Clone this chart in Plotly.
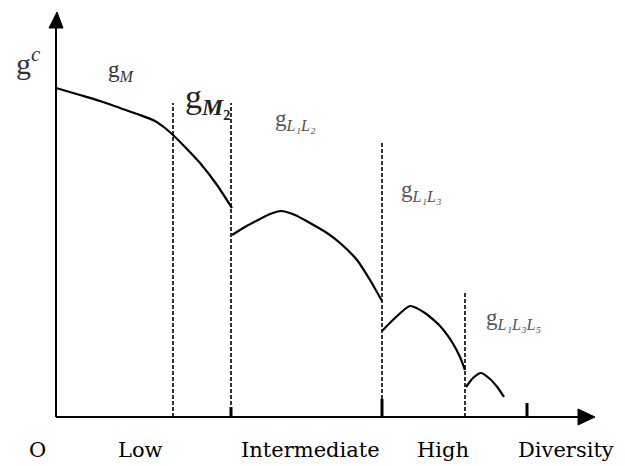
import plotly.graph_objects as go

# Growth-rate curve g^c against diversity, one piece per regime
seg_m_x = [0, 24, 44, 64, 84, 99, 109, 117, 129, 144, 161, 176]
seg_m_y = [329, 322, 316, 309, 302, 296, 289, 282, 270, 254, 232, 209]

seg_l12_x = [176, 189, 204, 214, 225, 239, 254, 271, 284, 301, 314, 326]
seg_l12_y = [182, 190, 198, 203, 206, 202, 194, 184, 174, 157, 137, 116]

seg_l13_x = [326, 339, 354, 369, 384, 396, 404, 409]
seg_l13_y = [86, 99, 111, 104, 91, 75, 60, 47]

seg_l135_x = [410, 417, 425, 434, 442, 448]
seg_l135_y = [30, 39, 44, 38, 29, 20]

# Regime boundaries (dashed) and their heights
boundary_x = [117, 175, 326, 409]
boundary_top = [314, 314, 275, 124]

# Thick tick marks on the diversity axis
tick_x = [175, 326, 471]
tick_h = [10, 18, 14]

# Category labels under the axis
cat_labels = ["O", "Low", "Intermediate", "High", "Diversity"]
cat_x = [-19, 84, 254, 387, 510]

# Curve labels
curve_labels = [
    "g<sub><i>M</i></sub>",
    "g<sub><b><i>M</i>₂</b></sub>",
    "g<sub><i>L₁L₂</i></sub>",
    "g<sub><i>L₁L₃</i></sub>",
    "g<sub><i>L₁L₃L₅</i></sub>",
]
curve_label_x = [65, 151, 239, 365, 457]
curve_label_y = [346, 318, 297, 226, 98]
curve_label_size = [23, 34, 23, 23, 23]
curve_label_color = ["#333", "#222", "#555", "#555", "#555"]

X_MIN, X_MAX = -56, 569
Y_MIN, Y_MAX = -49, 417

fig = go.Figure()

for sx, sy in [(seg_m_x, seg_m_y), (seg_l12_x, seg_l12_y),
               (seg_l13_x, seg_l13_y), (seg_l135_x, seg_l135_y)]:
    fig.add_trace(go.Scatter(
        x=sx, y=sy, mode="lines",
        line=dict(color="black", width=2.2, shape="spline", smoothing=0.6),
        hoverinfo="skip", showlegend=False,
    ))

shapes = []
# axes
shapes.append(dict(type="line", xref="x", yref="y", x0=0, y0=0, x1=0, y1=390,
                   line=dict(color="black", width=2)))
shapes.append(dict(type="line", xref="x", yref="y", x0=0, y0=0, x1=524, y1=0,
                   line=dict(color="black", width=2)))
# arrowheads
shapes.append(dict(type="path", xref="x", yref="y",
                   path="M -7,389 L 7,389 L 1,405 Z",
                   fillcolor="black", line=dict(color="black", width=1)))
shapes.append(dict(type="path", xref="x", yref="y",
                   path="M 522,-8 L 522,8 L 539,0 Z",
                   fillcolor="black", line=dict(color="black", width=1)))
# dashed regime boundaries
for bx, bt in zip(boundary_x, boundary_top):
    shapes.append(dict(type="line", xref="x", yref="y", x0=bx, y0=0, x1=bx, y1=bt,
                       line=dict(color="black", width=1.6, dash="4px,2px")))
# ticks
for tx, th in zip(tick_x, tick_h):
    shapes.append(dict(type="line", xref="x", yref="y", x0=tx, y0=0, x1=tx, y1=th,
                       line=dict(color="black", width=3)))

annotations = []
for lab, lx in zip(cat_labels, cat_x):
    annotations.append(dict(x=lx, y=-33, xref="x", yref="y", text=lab,
                            showarrow=False, xanchor="center", yanchor="middle",
                            font=dict(family="DejaVu Serif", size=21, color="black")))
for lab, lx, ly, ls, lc in zip(curve_labels, curve_label_x, curve_label_y,
                               curve_label_size, curve_label_color):
    annotations.append(dict(x=lx, y=ly, xref="x", yref="y", text=lab,
                            showarrow=False, xanchor="center", yanchor="middle",
                            font=dict(family="Liberation Serif", size=ls, color=lc)))
# vertical axis title
annotations.append(dict(x=-28, y=356, xref="x", yref="y",
                        text="g<sup><i>c</i></sup>", showarrow=False,
                        xanchor="center", yanchor="middle",
                        font=dict(family="Liberation Serif", size=30, color="#333")))

fig.update_layout(
    width=625, height=466,
    margin=dict(l=0, r=0, t=0, b=0),
    paper_bgcolor="white", plot_bgcolor="white",
    xaxis=dict(range=[X_MIN, X_MAX], visible=False, fixedrange=True),
    yaxis=dict(range=[Y_MIN, Y_MAX], visible=False, fixedrange=True),
    shapes=shapes, annotations=annotations,
    showlegend=False,
)

fig.write_html("out.html")
